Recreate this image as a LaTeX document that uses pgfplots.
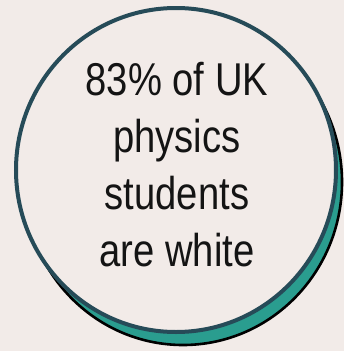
\documentclass[border=0pt]{standalone}
\usepackage{pgfplots}
\pgfplotsset{compat=1.18}
\usepackage{fontspec}
\setmainfont{Liberation Sans}[FakeStretch=0.83]
\definecolor{bg}{HTML}{F2EBE8}
\definecolor{ring}{HTML}{264B58}
\definecolor{teal}{HTML}{2A9D8F}
\begin{document}
\begin{tikzpicture}
\begin{axis}[
  scale only axis, width=344pt, height=351pt,
  xmin=0, xmax=344, ymin=0, ymax=351, y dir=reverse,
  hide axis, clip=false]
\fill[bg] (axis cs:0,0) rectangle (axis cs:344,351);
% shadow circle
\filldraw[fill=teal, draw=black, line width=2.6pt] (axis cs:183,182) ellipse [x radius=159, y radius=163];
% main circle
\filldraw[fill=bg, draw=ring, line width=4pt] (axis cs:176,170) ellipse [x radius=160, y radius=162];
\node[anchor=base, text=black!92, font=\fontsize{46}{57}\selectfont] at (axis cs:177,95) {83\% of UK};
\node[anchor=base, text=black!92, font=\fontsize{46}{57}\selectfont] at (axis cs:177,152) {physics};
\node[anchor=base, text=black!92, font=\fontsize{46}{57}\selectfont] at (axis cs:177,209) {students};
\node[anchor=base, text=black!92, font=\fontsize{46}{57}\selectfont] at (axis cs:177,266) {are white};
\end{axis}
\end{tikzpicture}
\end{document}
